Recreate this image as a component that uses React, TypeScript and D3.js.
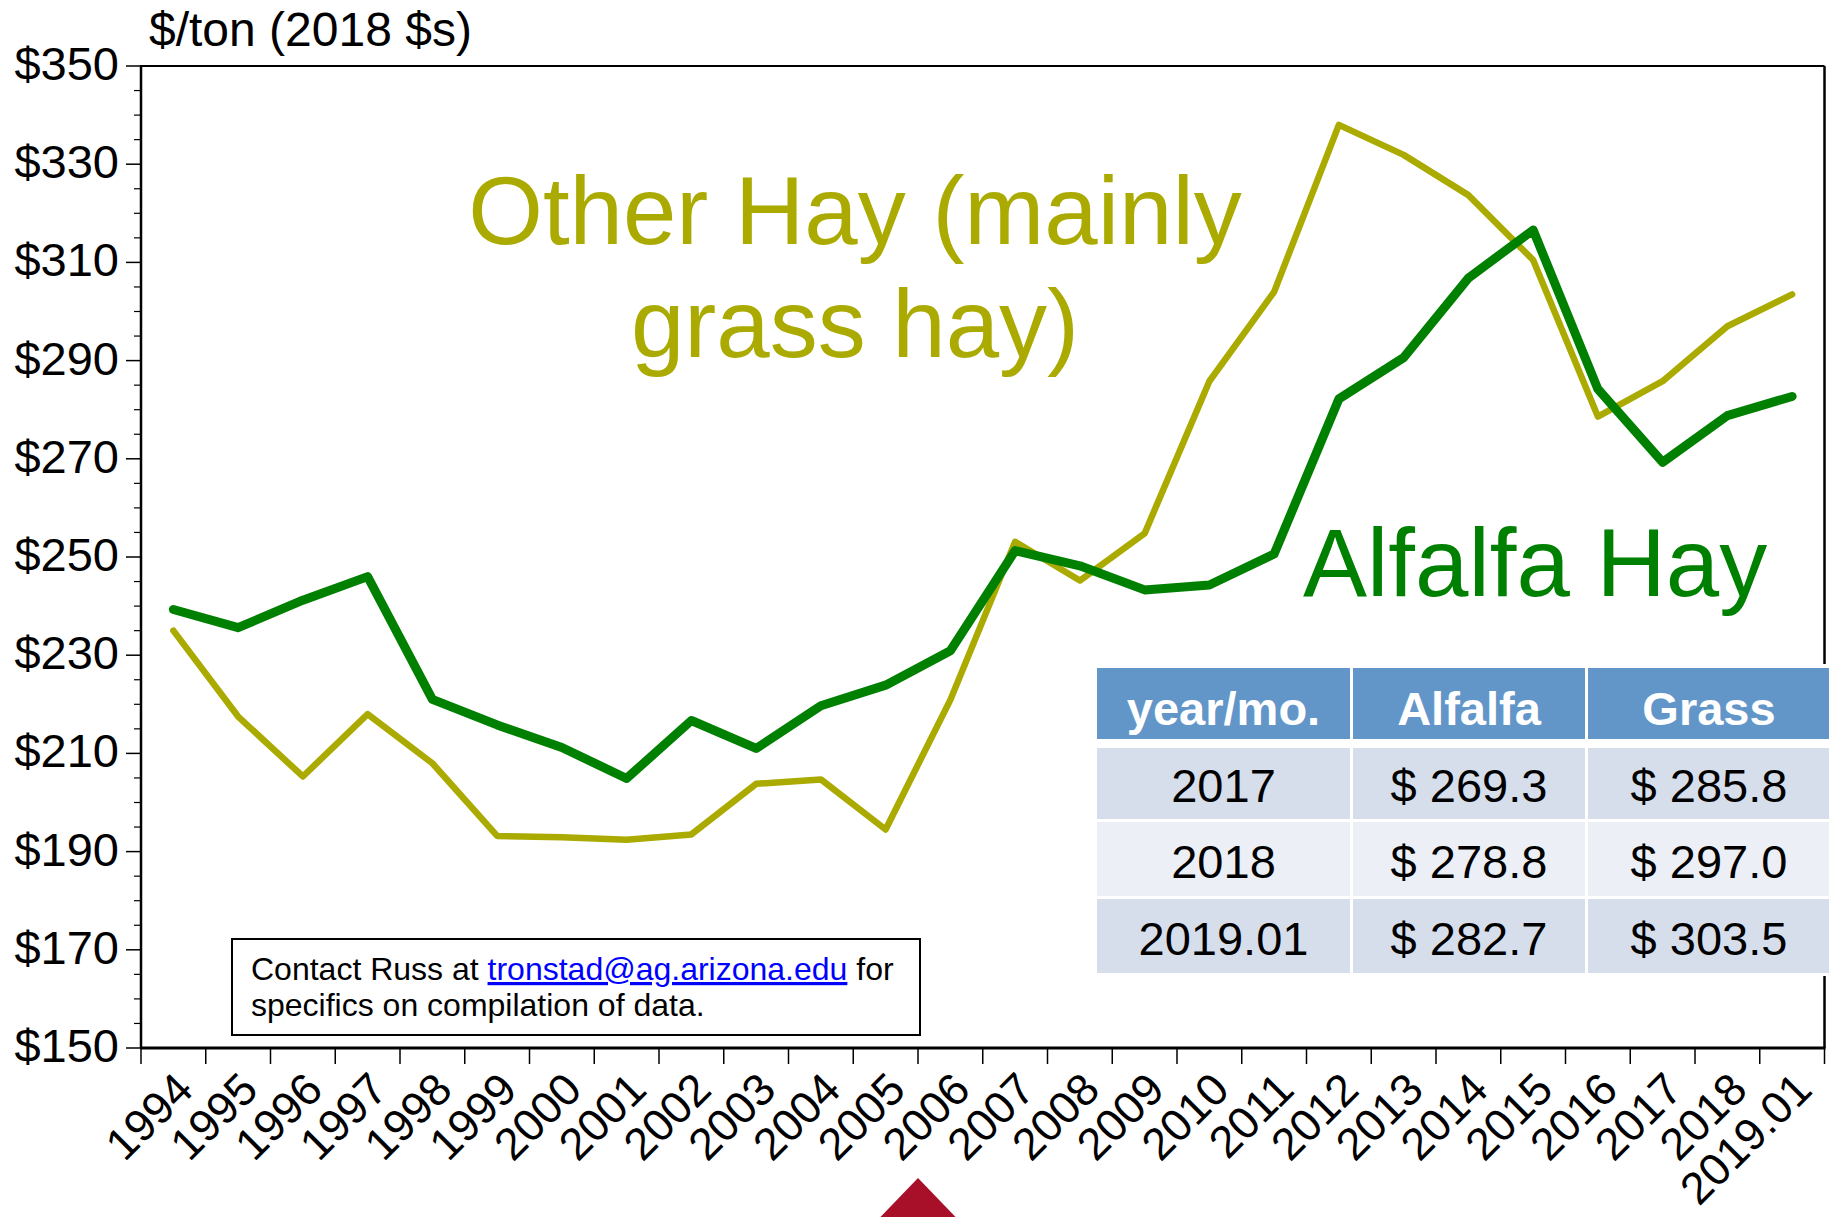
import React from "react";
import * as d3 from "d3";

const years: string[] = [
  "1994","1995","1996","1997","1998","1999","2000","2001","2002","2003","2004","2005","2006",
  "2007","2008","2009","2010","2011","2012","2013","2014","2015","2016","2017","2018","2019.01",
];
const alfalfa: number[] = [
  239.3, 235.6, 241.2, 246.0, 221.0, 215.8, 211.2, 204.9, 216.7, 211.0, 219.7, 223.9, 230.9,
  251.3, 248.2, 243.3, 244.3, 250.6, 282.2, 290.6, 306.8, 316.6, 284.2, 269.3, 278.8, 282.7,
];
const otherHay: number[] = [
  235.0, 217.5, 205.3, 218.0, 208.0, 193.2, 192.9, 192.4, 193.5, 203.8, 204.7, 194.5, 220.9,
  253.1, 245.2, 254.8, 285.8, 304.0, 338.0, 331.9, 323.7, 310.5, 278.6, 285.8, 297.0, 303.5,
];
const yMajorTicks: number[] = [150, 170, 190, 210, 230, 250, 270, 290, 310, 330, 350];
const tableHeader: string[] = ["year/mo.", "Alfalfa", "Grass"];
const tablePeriods: string[] = ["2017", "2018", "2019.01"];
const tableAlfalfa: string[] = ["$ 269.3", "$ 278.8", "$ 282.7"];
const tableGrass: string[] = ["$ 285.8", "$ 297.0", "$ 303.5"];

const FONT = "'Liberation Sans', Arial, Helvetica, sans-serif";
const GREEN = "#008000";
const OLIVE = "#AAAA00";

export default function App() {
  const W = 1829, H = 1217;
  const left = 141, right = 1824.5, top = 66, bottom = 1048;

  const x = d3.scaleBand<string>().domain(years).range([left, right]).padding(0);
  const bw = x.bandwidth();
  const cx = (yr: string) => (x(yr) as number) + bw / 2;
  const y = d3.scaleLinear().domain([150, 350]).range([bottom, top]);

  const line = d3
    .line<number>()
    .x((_, i) => cx(years[i]))
    .y((d) => y(d));

  const minorTicks = d3.range(150, 351, 5).filter((v) => !yMajorTicks.includes(v));
  const xTickPositions = years.map((yr) => x(yr) as number).concat([right]);

  // table geometry
  const colX = [1097, 1353, 1588];
  const colW = [253, 232, 250];
  const rowY = [668, 748, 822, 899];
  const rowH = [71, 71, 74, 74];
  const rowFill = ["#6296C9", "#D7DEEB", "#ECEFF5", "#D7DEEB"];
  const baselines = [725, 802, 878, 955];
  const colCenters = [1223.5, 1469, 1709];
  const rows = [tableHeader, ...tablePeriods.map((p, i) => [p, tableAlfalfa[i], tableGrass[i]])];

  return (
    <svg
      width={W}
      height={H}
      style={{ position: "absolute", left: 0, top: 0, display: "block", background: "#fff" }}
      fontFamily={FONT}
    >
      <rect x={0} y={0} width={W} height={H} fill="#fff" />

      {/* frame */}
      <line x1={left} x2={right} y1={top} y2={top} stroke="#000" strokeWidth={2} />
      <line x1={right} x2={right} y1={top} y2={bottom} stroke="#000" strokeWidth={2.5} />
      <line x1={left} x2={left} y1={top - 1} y2={bottom} stroke="#000" strokeWidth={2.5} />
      <line x1={left - 1} x2={right + 1} y1={bottom} y2={bottom} stroke="#000" strokeWidth={3} />

      {/* y ticks */}
      {yMajorTicks.map((v) => (
        <g key={"ym" + v}>
          <line x1={126} x2={left} y1={y(v)} y2={y(v)} stroke="#000" strokeWidth={1.5} />
          <text x={119} y={y(v) + 14} textAnchor="end" fontSize={47} fill="#000">
            {"$" + v}
          </text>
        </g>
      ))}
      {minorTicks.map((v) => (
        <line key={"yn" + v} x1={134} x2={left} y1={y(v)} y2={y(v)} stroke="#000" strokeWidth={1.2} />
      ))}
      <text x={149} y={46} fontSize={48} fill="#000">$/ton (2018 $s)</text>

      {/* x ticks */}
      {xTickPositions.map((px, i) => (
        <line key={"xt" + i} x1={px} x2={px} y1={bottom} y2={bottom + 16} stroke="#000" strokeWidth={1.5} />
      ))}
      {years.map((yr) => {
        const ax = cx(yr) + 22;
        const ay = bottom + 44;
        return (
          <text
            key={"xl" + yr}
            x={ax}
            y={ay}
            textAnchor="end"
            fontSize={45}
            fill="#000"
            transform={`rotate(-45, ${ax}, ${ay})`}
          >
            {yr}
          </text>
        );
      })}

      {/* series */}
      <path d={line(otherHay) || ""} fill="none" stroke={OLIVE} strokeWidth={6.5} strokeLinejoin="round" strokeLinecap="round" />
      <path d={line(alfalfa) || ""} fill="none" stroke={GREEN} strokeWidth={9} strokeLinejoin="round" strokeLinecap="round" />

      {/* series labels */}
      <text x={855} y={244} textAnchor="middle" fontSize={96} fill={OLIVE}>Other Hay (mainly</text>
      <text x={855} y={357} textAnchor="middle" fontSize={96} fill={OLIVE}>grass hay)</text>
      <text x={1303} y={596} fontSize={96} fill={GREEN}>Alfalfa Hay</text>

      {/* table */}
      <rect x={1094} y={664} width={740} height={312} fill="#fff" />
      {rows.map((r, ri) => (
        <g key={"row" + ri}>
          {r.map((cell, ci) => (
            <g key={"c" + ci}>
              <rect x={colX[ci]} y={rowY[ri]} width={colW[ci]} height={rowH[ri]} fill={rowFill[ri]} />
              <text
                x={colCenters[ci]}
                y={baselines[ri]}
                textAnchor="middle"
                fontSize={47}
                fontWeight={ri === 0 ? "bold" : "normal"}
                fill={ri === 0 ? "#fff" : "#000"}
              >
                {cell}
              </text>
            </g>
          ))}
        </g>
      ))}

      {/* contact box */}
      <rect x={232} y={939} width={688} height={96} fill="#fff" stroke="#000" strokeWidth={2} />
      <text x={251} y={980} fontSize={32} fill="#000">
        Contact Russ at{" "}
        <tspan fill="#0000FF" textDecoration="underline" style={{ textDecoration: "underline" }}>
          tronstad@ag.arizona.edu
        </tspan>{" "}
        for
      </text>
      <text x={251} y={1016} fontSize={32} fill="#000">specifics on compilation of data.</text>

      {/* marker triangle */}
      <polygon points="918,1178 866,1232 970,1232" fill="#A8102A" />
    </svg>
  );
}
